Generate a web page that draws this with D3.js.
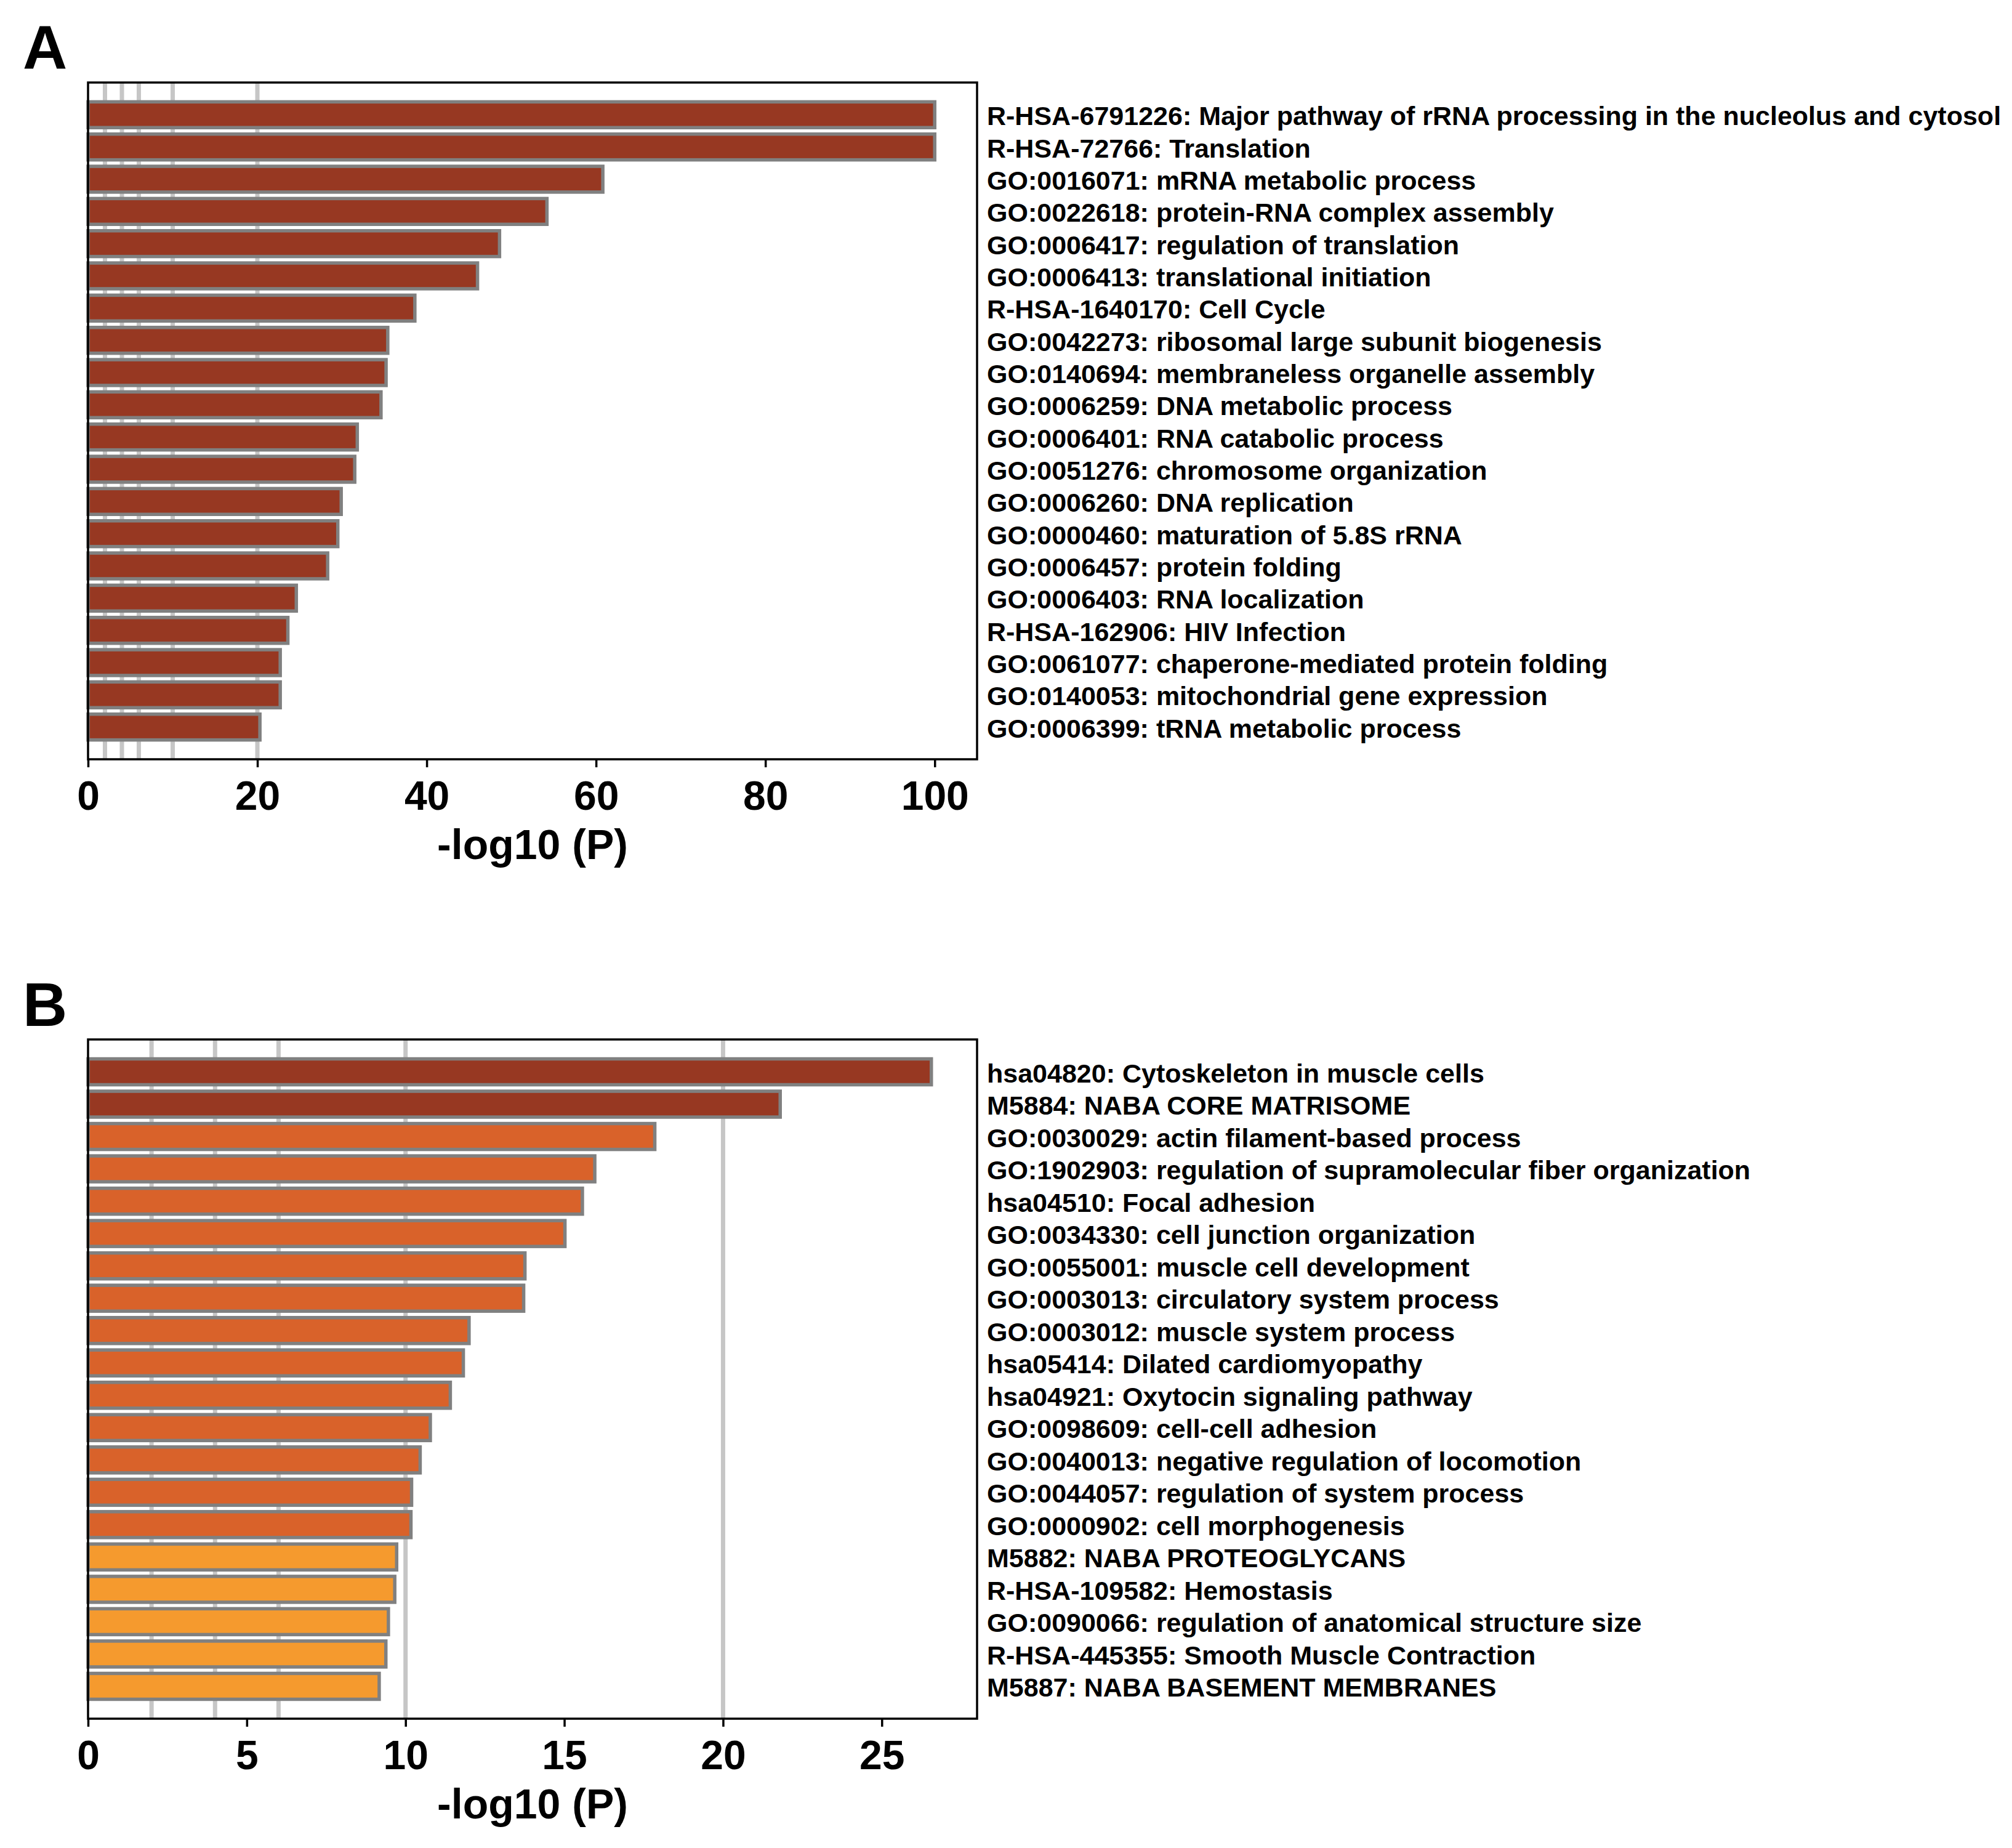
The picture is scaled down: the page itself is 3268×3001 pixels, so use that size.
<!DOCTYPE html>
<html>
<head>
<meta charset="utf-8">
<script src="https://cdn.jsdelivr.net/npm/d3@7"></script>
<style>
  body { margin: 0; background: #fff; }
  text { font-family: "Liberation Sans", Arial, sans-serif; font-weight: bold; }
</style>
</head>
<body>
<svg id="chart" width="3268" height="3001"></svg>
<script>
// panel A terms and -log10(P)
var termsA = [
  "R-HSA-6791226: Major pathway of rRNA processing in the nucleolus and cytosol",
  "R-HSA-72766: Translation",
  "GO:0016071: mRNA metabolic process",
  "GO:0022618: protein-RNA complex assembly",
  "GO:0006417: regulation of translation",
  "GO:0006413: translational initiation",
  "R-HSA-1640170: Cell Cycle",
  "GO:0042273: ribosomal large subunit biogenesis",
  "GO:0140694: membraneless organelle assembly",
  "GO:0006259: DNA metabolic process",
  "GO:0006401: RNA catabolic process",
  "GO:0051276: chromosome organization",
  "GO:0006260: DNA replication",
  "GO:0000460: maturation of 5.8S rRNA",
  "GO:0006457: protein folding",
  "GO:0006403: RNA localization",
  "R-HSA-162906: HIV Infection",
  "GO:0061077: chaperone-mediated protein folding",
  "GO:0140053: mitochondrial gene expression",
  "GO:0006399: tRNA metabolic process"
];
var valuesA = [100, 100, 60.8, 54.2, 48.6, 46.0, 38.6, 35.4, 35.2, 34.6,
               31.8, 31.5, 29.9, 29.5, 28.3, 24.6, 23.6, 22.7, 22.7, 20.3];
var levelsA = [0,0,0,0,0,0,0,0,0,0,0,0,0,0,0,0,0,0,0,0];

// panel B
var termsB = [
  "hsa04820: Cytoskeleton in muscle cells",
  "M5884: NABA CORE MATRISOME",
  "GO:0030029: actin filament-based process",
  "GO:1902903: regulation of supramolecular fiber organization",
  "hsa04510: Focal adhesion",
  "GO:0034330: cell junction organization",
  "GO:0055001: muscle cell development",
  "GO:0003013: circulatory system process",
  "GO:0003012: muscle system process",
  "hsa05414: Dilated cardiomyopathy",
  "hsa04921: Oxytocin signaling pathway",
  "GO:0098609: cell-cell adhesion",
  "GO:0040013: negative regulation of locomotion",
  "GO:0044057: regulation of system process",
  "GO:0000902: cell morphogenesis",
  "M5882: NABA PROTEOGLYCANS",
  "R-HSA-109582: Hemostasis",
  "GO:0090066: regulation of anatomical structure size",
  "R-HSA-445355: Smooth Muscle Contraction",
  "M5887: NABA BASEMENT MEMBRANES"
];
var valuesB = [26.56, 21.8, 17.85, 15.96, 15.57, 15.02, 13.76, 13.72, 12.0, 11.82,
               11.41, 10.78, 10.46, 10.19, 10.17, 9.72, 9.66, 9.46, 9.38, 9.17];
var levelsB = [0,0,1,1,1,1,1,1,1,1,1,1,1,1,1,2,2,2,2,2];

var ticksA = [0, 20, 40, 60, 80, 100];
var ticksB = [0, 5, 10, 15, 20, 25];
var gridVals = [2, 4, 6, 10, 20];   // significance guide lines
var xMaxA = 105, xMaxB = 28;
var axisTitle = "-log10 (P)";

var color = d3.scaleOrdinal().domain([0, 1, 2]).range(["#973822", "#d9622a", "#f59a2e"]);

var svg = d3.select("#chart");
svg.append("rect").attr("width", 3268).attr("height", 3001).attr("fill", "#fff");

var left = 143, right = 1587;

function drawPanel(letter, top, bottom, terms, values, levels, ticks, xMax){
  var g = svg.append("g");

  var x = d3.scaleLinear().domain([0, xMax]).range([left, right]);
  var y = d3.scaleBand().domain(d3.range(terms.length))
      .range([top, bottom]).paddingInner(0.2).paddingOuter(0.6);

  // grid
  g.append("g").selectAll("line")
      .data(gridVals.filter(function(v){ return v < xMax; }))
    .enter().append("line")
      .attr("x1", function(d){ return x(d); })
      .attr("x2", function(d){ return x(d); })
      .attr("y1", top).attr("y2", bottom)
      .attr("stroke", "#c6c6c6")
      .attr("stroke-width", 7);

  // bars
  g.append("g").selectAll("rect")
      .data(values)
    .enter().append("rect")
      .attr("x", x(0))
      .attr("y", function(d, i){ return y(i); })
      .attr("width", function(d){ return x(d) - x(0); })
      .attr("height", y.bandwidth())
      .attr("fill", function(d, i){ return color(levels[i]); })
      .attr("stroke", "#808080")
      .attr("stroke-width", 5.5);

  // frame
  g.append("rect")
      .attr("x", left).attr("y", top)
      .attr("width", right - left).attr("height", bottom - top)
      .attr("fill", "none").attr("stroke", "#000").attr("stroke-width", 3.5);

  // x axis
  var ax = g.append("g")
      .attr("transform", "translate(0," + bottom + ")")
      .call(d3.axisBottom(x).tickValues(ticks).tickFormat(d3.format("d"))
              .tickSize(13).tickPadding(22));
  ax.select(".domain").remove();
  ax.selectAll(".tick line").attr("stroke", "#000").attr("stroke-width", 3.5);
  ax.selectAll(".tick text")
      .attr("fill", "#000")
      .style("font-size", "66px")
      .style("font-family", "'Liberation Sans', Arial, sans-serif")
      .style("font-weight", "bold");

  g.append("text")
      .attr("x", (left + right) / 2)
      .attr("y", bottom + 162)
      .attr("text-anchor", "middle")
      .style("font-size", "68px")
      .text(axisTitle);

  // term labels
  g.append("g").selectAll("text")
      .data(terms)
    .enter().append("text")
      .attr("x", right + 16)
      .attr("y", function(d, i){ return y(i) + y.bandwidth() / 2 + 17; })
      .style("font-size", "43px")
      .text(function(d){ return d; });

  // panel letter
  g.append("text")
      .attr("x", 37)
      .attr("y", top - 22)
      .style("font-size", "100px")
      .text(letter);
}

drawPanel("A", 134, 1233, termsA, valuesA, levelsA, ticksA, xMaxA);
drawPanel("B", 1688, 2791, termsB, valuesB, levelsB, ticksB, xMaxB);
</script>
</body>
</html>
